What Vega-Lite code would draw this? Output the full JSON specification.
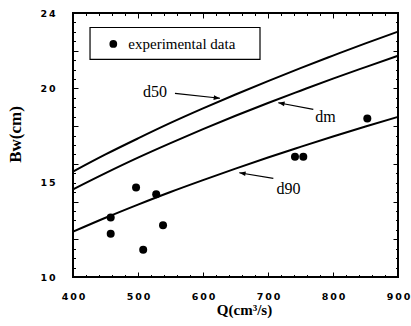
{
  "$schema": "https://vega.github.io/schema/vega-lite/v6.json",
  "width": 325,
  "height": 264,
  "autosize": {"type": "none"},
  "padding": {"left": 73, "top": 13, "right": 13, "bottom": 49},
  "background": "white",
  "config": {
    "view": {"stroke": "black", "strokeWidth": 2},
    "axis": {
      "domain": false,
      "grid": false,
      "tickColor": "black",
      "tickWidth": 1,
      "labelFont": "DejaVu Sans",
      "labelFontWeight": "bold",
      "labelFontSize": 9.5,
      "labelColor": "black",
      "labelFlush": false,
      "labelOverlap": false,
      "titleFont": "Liberation Serif",
      "titleFontWeight": "bold",
      "titleColor": "black"
    }
  },
  "datasets": {
    "curves": [
      {"Q": 400, "Bw": 15.59, "curve": "d50"}, {"Q": 450, "Bw": 16.50, "curve": "d50"}, {"Q": 500, "Bw": 17.35, "curve": "d50"},
      {"Q": 550, "Bw": 18.17, "curve": "d50"}, {"Q": 600, "Bw": 18.94, "curve": "d50"}, {"Q": 650, "Bw": 19.68, "curve": "d50"},
      {"Q": 700, "Bw": 20.39, "curve": "d50"}, {"Q": 750, "Bw": 21.08, "curve": "d50"}, {"Q": 800, "Bw": 21.74, "curve": "d50"},
      {"Q": 850, "Bw": 22.39, "curve": "d50"}, {"Q": 900, "Bw": 23.01, "curve": "d50"},
      {"Q": 400, "Bw": 14.65, "curve": "dm"}, {"Q": 450, "Bw": 15.51, "curve": "dm"}, {"Q": 500, "Bw": 16.33, "curve": "dm"},
      {"Q": 550, "Bw": 17.10, "curve": "dm"}, {"Q": 600, "Bw": 17.84, "curve": "dm"}, {"Q": 650, "Bw": 18.55, "curve": "dm"},
      {"Q": 700, "Bw": 19.23, "curve": "dm"}, {"Q": 750, "Bw": 19.88, "curve": "dm"}, {"Q": 800, "Bw": 20.52, "curve": "dm"},
      {"Q": 850, "Bw": 21.13, "curve": "dm"}, {"Q": 900, "Bw": 21.73, "curve": "dm"},
      {"Q": 400, "Bw": 12.40, "curve": "d90"}, {"Q": 450, "Bw": 13.14, "curve": "d90"}, {"Q": 500, "Bw": 13.84, "curve": "d90"},
      {"Q": 550, "Bw": 14.51, "curve": "d90"}, {"Q": 600, "Bw": 15.14, "curve": "d90"}, {"Q": 650, "Bw": 15.75, "curve": "d90"},
      {"Q": 700, "Bw": 16.34, "curve": "d90"}, {"Q": 750, "Bw": 16.90, "curve": "d90"}, {"Q": 800, "Bw": 17.45, "curve": "d90"},
      {"Q": 850, "Bw": 17.98, "curve": "d90"}, {"Q": 900, "Bw": 18.49, "curve": "d90"}
    ],
    "points": [
      {"Q": 458, "Bw": 13.15}, {"Q": 458, "Bw": 12.30}, {"Q": 497, "Bw": 14.74},
      {"Q": 528, "Bw": 14.39}, {"Q": 538.5, "Bw": 12.74}, {"Q": 508, "Bw": 11.45},
      {"Q": 741.5, "Bw": 16.38}, {"Q": 754.3, "Bw": 16.38}, {"Q": 852.8, "Bw": 18.40}
    ],
    "legendbox": [{"x1": 426.2, "x2": 687.7, "y1": 23.23, "y2": 21.545}],
    "legendentry": [{"xd": 462, "yd": 22.36, "xt": 485.1, "yt": 22.08, "label": "experimental data"}],
    "arrows": [
      {"x1": 556.9, "y1": 19.74, "x2": 626.2, "y2": 19.48, "ang": 6.3},
      {"x1": 769.7, "y1": 18.89, "x2": 715.8, "y2": 19.24, "ang": 190.7},
      {"x1": 708.2, "y1": 15.23, "x2": 655.8, "y2": 15.53, "ang": 189.4}
    ],
    "labels": [
      {"Q": 526.2, "Bw": 19.56, "text": "d50"},
      {"Q": 788.5, "Bw": 18.24, "text": "dm"},
      {"Q": 731.5, "Bw": 14.40, "text": "d90"}
    ]
  },
  "resolve": {"axis": {"x": "independent", "y": "independent"}},
  "layer": [
    {
      "data": {"name": "legendbox"},
      "mark": {"type": "rect", "fill": "white", "stroke": "black", "strokeWidth": 1.2},
      "encoding": {
        "x": {"field": "x1", "type": "quantitative", "scale": {"domain": [400, 900], "nice": false, "zero": false},
          "axis": {"orient": "bottom", "values": [400, 500, 600, 700, 800, 900], "ticks": false, "tickSize": 0, "labelPadding": 14,
            "labelExpr": "join(split(datum.label, ''), '\u2009')",
            "title": "Q(cm³/s)", "titleFontSize": 15, "titleX": 171, "titleY": 32.5, "titleBaseline": "middle", "titleAlign": "center"}},
        "x2": {"field": "x2"},
        "y": {"field": "y1", "type": "quantitative", "scale": {"domain": [10, 24], "nice": false, "zero": false},
          "axis": {"orient": "left", "values": [10, 15, 20, 24], "ticks": false, "tickSize": 0, "labelPadding": 18, "labelBaseline": "middle",
            "labelExpr": "join(split(datum.label, ''), '\u2009')",
            "title": "Bw(cm)", "titleFontSize": 17, "titleX": -58, "titleY": 121, "titleAngle": -90, "titleBaseline": "middle", "titleAlign": "center"}},
        "y2": {"field": "y2"}
      }
    },
    {
      "data": {"name": "curves"},
      "mark": {"type": "line", "color": "black", "strokeWidth": 2, "interpolate": "monotone"},
      "encoding": {
        "x": {"field": "Q", "type": "quantitative",
          "axis": {"orient": "bottom", "values": [400, 500, 600, 700, 800, 900], "labels": false, "tickSize": -5, "title": null}},
        "y": {"field": "Bw", "type": "quantitative",
          "axis": {"orient": "left", "values": [10, 12, 14, 16, 18, 20, 22, 24], "labels": false, "tickSize": -5, "title": null}},
        "detail": {"field": "curve", "type": "nominal"}
      }
    },
    {
      "data": {"name": "points"},
      "mark": {"type": "point", "shape": "circle", "filled": true, "color": "black", "size": 64, "opacity": 1},
      "encoding": {
        "x": {"field": "Q", "type": "quantitative",
          "axis": {"orient": "bottom", "values": [420, 440, 460, 480, 520, 540, 560, 580, 620, 640, 660, 680, 720, 740, 760, 780, 820, 840, 860, 880], "labels": false, "tickSize": -2.5, "title": null}},
        "y": {"field": "Bw", "type": "quantitative",
          "axis": {"orient": "left", "values": [10.5, 11, 11.5, 12.5, 13, 13.5, 14.5, 15, 15.5, 16.5, 17, 17.5, 18.5, 19, 19.5, 20.5, 21, 21.5, 22.5, 23, 23.5], "labels": false, "tickSize": -2.5, "title": null}}
      }
    },
    {
      "data": {"name": "legendentry"},
      "mark": {"type": "point", "shape": "circle", "filled": true, "color": "black", "size": 60, "opacity": 1},
      "encoding": {
        "x": {"field": "xd", "type": "quantitative",
          "axis": {"orient": "top", "values": [400, 500, 600, 700, 800, 900], "labels": false, "tickSize": -5, "title": null}},
        "y": {"field": "yd", "type": "quantitative",
          "axis": {"orient": "right", "values": [10, 12, 14, 16, 18, 20, 22, 24], "labels": false, "tickSize": -5, "title": null}}
      }
    },
    {
      "data": {"name": "legendentry"},
      "mark": {"type": "text", "font": "Liberation Serif", "fontSize": 15, "color": "black", "align": "left", "baseline": "alphabetic"},
      "encoding": {
        "x": {"field": "xt", "type": "quantitative",
          "axis": {"orient": "top", "values": [420, 440, 460, 480, 520, 540, 560, 580, 620, 640, 660, 680, 720, 740, 760, 780, 820, 840, 860, 880], "labels": false, "tickSize": -2.5, "title": null}},
        "y": {"field": "yt", "type": "quantitative",
          "axis": {"orient": "right", "values": [10.5, 11, 11.5, 12.5, 13, 13.5, 14.5, 15, 15.5, 16.5, 17, 17.5, 18.5, 19, 19.5, 20.5, 21, 21.5, 22.5, 23, 23.5], "labels": false, "tickSize": -2.5, "title": null}},
        "text": {"field": "label"}
      }
    },
    {
      "data": {"name": "arrows"},
      "mark": {"type": "rule", "color": "black", "strokeWidth": 1.2},
      "encoding": {
        "x": {"field": "x1", "type": "quantitative", "axis": null},
        "y": {"field": "y1", "type": "quantitative", "axis": null},
        "x2": {"field": "x2"},
        "y2": {"field": "y2"}
      }
    },
    {
      "data": {"name": "arrows"},
      "mark": {"type": "point", "shape": "M0,0L-2,-0.75L-2,0.75Z", "filled": true, "color": "black", "size": 40, "opacity": 1},
      "encoding": {
        "x": {"field": "x2", "type": "quantitative", "axis": null},
        "y": {"field": "y2", "type": "quantitative", "axis": null},
        "angle": {"field": "ang", "type": "quantitative", "scale": null}
      }
    },
    {
      "data": {"name": "labels"},
      "mark": {"type": "text", "font": "Liberation Serif", "fontSize": 16, "color": "black", "align": "center", "baseline": "alphabetic"},
      "encoding": {
        "x": {"field": "Q", "type": "quantitative", "axis": null},
        "y": {"field": "Bw", "type": "quantitative", "axis": null},
        "text": {"field": "text"}
      }
    }
  ]
}
